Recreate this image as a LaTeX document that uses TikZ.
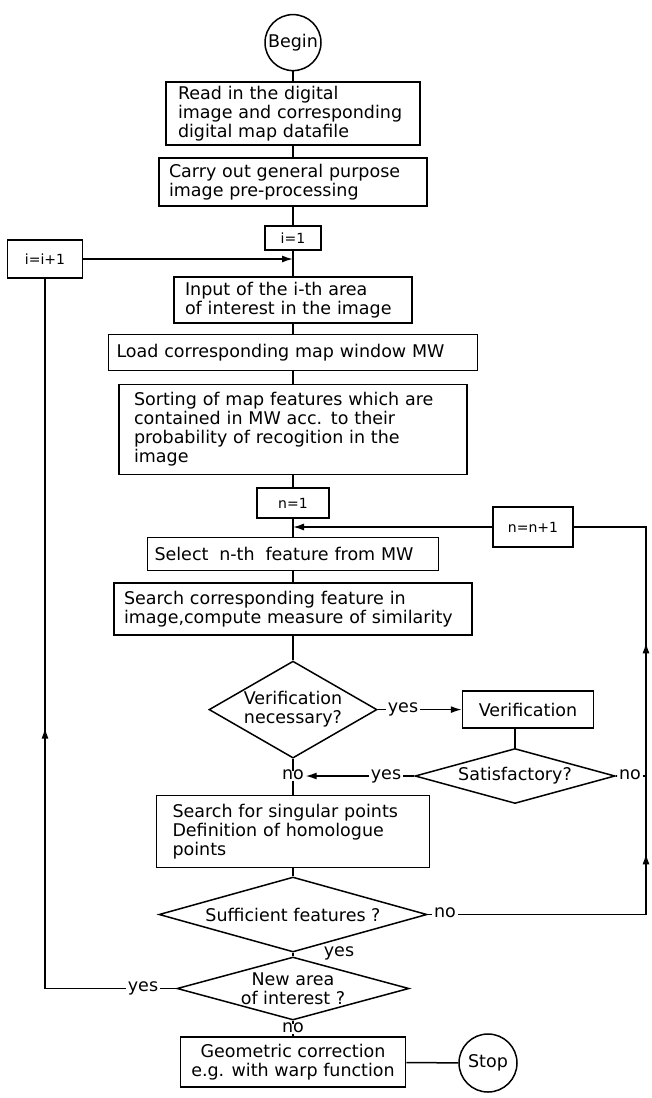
\documentclass[tikz,border=0pt]{standalone}
\usepackage{fontspec}
\setmainfont{DejaVu Sans}
\usetikzlibrary{shapes.geometric,arrows.meta,decorations.markings}
\begin{document}
\begin{tikzpicture}[x=1pt,y=1pt,
  line width=1.5pt,
  every node/.style={font=\fontsize{17.5}{19}\selectfont},
  box/.style={draw, rectangle, inner ysep=0pt, align=left},
  cbox/.style={draw, rectangle, inner sep=0pt, align=center},
  smallbox/.style={draw, rectangle, inner sep=0pt, align=center, font=\fontsize{14}{16}\selectfont},
  dia/.style={draw, diamond, inner sep=0pt},
  diatext/.style={align=center, inner sep=0pt},
  term/.style={draw, circle, inner sep=0pt},
  lbl/.style={inner sep=1pt, text height=1.1ex, text depth=0pt},
  arr/.style={-{Latex[length=11pt,width=7pt]}},
]
\fill[white] (0,0) rectangle (652,-1098);
\useasboundingbox (0,0) rectangle (652,-1098);

% main column
\node[term, minimum size=56] (begin) at (293,-42.6) {Begin};
\node[box, text width=230, inner xsep=12, minimum height=63] (b1) at (293,-113.6)
  {Read in the digital\\image and corresponding\\digital map datafile};
\node[box, text width=248, inner xsep=10, minimum height=48] (b2) at (293,-182)
  {Carry out general purpose\\image pre-processing};
\node[smallbox, minimum width=56, minimum height=24] (i1) at (293,-238) {i=1};
\node[smallbox, minimum width=75, minimum height=38] (iplus) at (45,-259) {i=i+1};
\node[box, text width=216, inner xsep=11, minimum height=46] (b3) at (293,-300)
  {Input of the i-th area\\of interest in the image};
\node[box, text width=353, inner xsep=8, minimum height=36] (b4) at (293,-352.4)
  {Load corresponding map window MW};
\node[box, text width=318, inner xsep=15, minimum height=90] (b5) at (293,-429.6)
  {Sorting of map features which are\\contained in MW acc. to their\\probability of recogition in the\\image};
\node[smallbox, minimum width=72, minimum height=30] (n1) at (293,-503) {n=1};
\node[smallbox, minimum width=80, minimum height=40] (nn) at (533,-527) {n=n+1};
\node[box, text width=277, inner xsep=7, minimum height=33] (b6) at (293,-554)
  {Select\hspace{5pt} n-th\hspace{5pt} feature from MW};
\node[box, text width=338, inner xsep=10, minimum height=52] (b7) at (293,-609)
  {Search corresponding feature in\\image,compute measure of similarity};

% verification branch
\node[dia, minimum width=168, minimum height=97] (d1) at (293,-709.6) {};
\node[diatext] (d1t) at (d1.center) {Verification\\necessary?};
\node[cbox, minimum width=131, minimum height=37] (ver) at (528,-709.6) {Verification};
\node[dia, minimum width=200, minimum height=55] (sat) at (515,-776) {};
\node[diatext] (satt) at (sat.center) {Satisfactory?};

\node[box, text width=241, inner xsep=16, minimum height=72] (b8) at (293,-831.7)
  {Search for singular points\\Definition of homologue\\points};

\node[dia, minimum width=268, minimum height=75] (suf) at (293,-914.5) {};
\node[diatext] (suft) at (suf.center) {Sufficient features ?};
\node[dia, minimum width=232, minimum height=63] (na) at (293,-988.5) {};
\node[diatext] (nat) at (na.center) {New area\\of interest ?};

\node[cbox, minimum width=225, minimum height=50] (b9) at (293,-1062)
  {Geometric correction\\e.g. with warp function};
\node[term, minimum size=58] (stop) at (488,-1063) {Stop};

% labels on connectors
\node[lbl] (y1) at (403,-709.6) {yes};
\node[lbl] (no1) at (293,-776) {no};
\node[lbl] (y2) at (386,-776) {yes};
\node[lbl] (no2) at (630,-776) {no};
\node[lbl] (no3) at (445,-914.5) {no};
\node[lbl] (y3) at (339,-953) {yes};
\node[lbl] (y4) at (143,-988.5) {yes};
\node[lbl] (no4) at (293,-1029) {no};

% coordinates
\coordinate (J1) at (i1.south |- iplus.east);
\coordinate (J2) at (n1.south |- nn.west);
\coordinate (V1) at (ver.south -| sat.north);
\coordinate (R0) at (646,-776);
\coordinate (R1) at (646,-914.5);
\coordinate (R2) at (nn.east -| R1);
\coordinate (L1) at (iplus.south |- na.west);

% connectors
\draw (begin) -- (b1);
\draw (b1) -- (b2);
\draw (b2) -- (i1);
\draw (i1) -- (b3);
\draw[arr] (iplus.east) -- (J1);
\draw (b3) -- (b4);
\draw (b4) -- (b5);
\draw (b5) -- (n1);
\draw (n1) -- (b6);
\draw[arr] (nn.west) -- (J2);
\draw (b6) -- (b7);
\draw (b7) -- (d1.north);

\draw (d1.east) -- (y1.west);
\draw[arr] (y1.east) -- (ver.west);
\draw (V1) -- (sat.north);
\draw (d1.south) -- (no1.north);
\draw (no1.south) -- (b8.north);
\draw (sat.west) -- (y2.east);
\draw[arr] (y2.west) -- (no1.east);
\draw (sat.east) -- (no2.west);
\draw (no2.east) -- (R0);

\draw (b8.south) -- (suf.north);
\draw (suf.south) -- (na.north);
\draw[line join=miter, postaction={decorate}, decoration={markings,
    mark=at position 249.5pt with {\arrow{Latex[length=11pt,width=7pt]}},
    mark=at position 460.5pt with {\arrow{Latex[length=11pt,width=7pt]}}}]
  (no3.east) -- (R1) -- (R2) -- (nn.east);
\draw (suf.east) -- (no3.west);

\draw (na.west) -- (y4.east);
\draw[line join=miter, postaction={decorate}, decoration={markings,
    mark=at position 342pt with {\arrow{Latex[length=11pt,width=7pt]}}}]
  (y4.west) -- (L1) -- (iplus.south);
\draw (na.south) -- (no4.north);
\draw (no4.south) -- (b9.north);
\draw (b9) -- (stop);
\end{tikzpicture}
\end{document}
